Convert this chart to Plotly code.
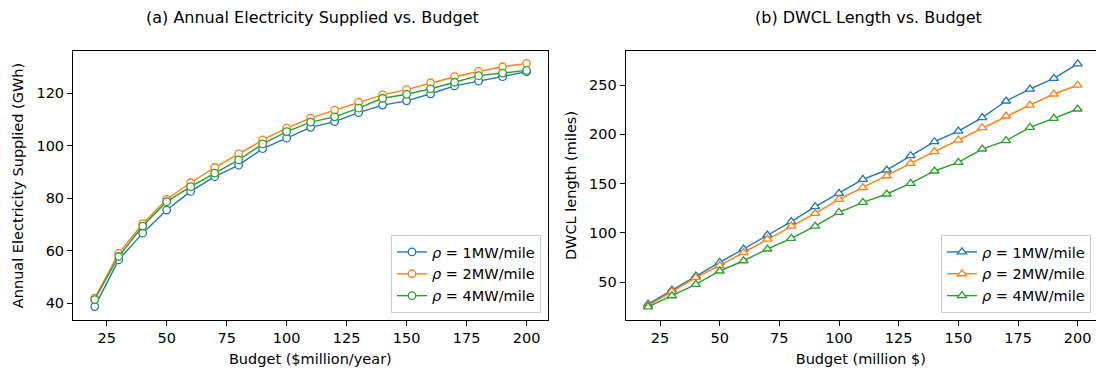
import plotly.graph_objects as go

budget = [20, 30, 40, 50, 60, 70, 80, 90, 100, 110, 120, 130, 140, 150, 160, 170, 180, 190, 200]

elec_1mw = [38.7, 56.5, 66.7, 75.5, 82.6, 88.2, 92.6, 98.9, 102.9, 107.0, 109.2, 112.6, 115.5, 117.1, 119.8, 122.8, 124.6, 126.3, 128.2]
elec_2mw = [41.9, 59.0, 70.3, 79.6, 85.9, 91.7, 96.9, 102.2, 106.7, 110.5, 113.6, 116.6, 119.4, 121.4, 124.0, 126.3, 128.3, 130.1, 131.4]
elec_4mw = [41.4, 57.8, 69.4, 78.7, 84.4, 89.6, 94.6, 100.7, 105.4, 109.0, 111.0, 114.3, 118.1, 119.6, 121.7, 124.2, 126.7, 127.7, 128.7]

dwcl_1mw = [27.9, 42.1, 56.3, 70.2, 83.7, 97.9, 111.4, 126.6, 140.2, 154.3, 163.8, 178.3, 192.5, 203.3, 216.9, 233.8, 245.9, 256.8, 271.5]
dwcl_2mw = [26.2, 40.4, 54.6, 66.8, 80.0, 93.8, 107.0, 119.9, 134.1, 145.9, 158.0, 170.6, 182.4, 194.2, 206.7, 218.6, 229.7, 240.9, 249.8]
dwcl_4mw = [25.0, 36.3, 47.8, 61.4, 71.8, 83.7, 94.5, 107.0, 120.9, 131.0, 139.5, 150.3, 162.8, 171.6, 185.1, 193.6, 207.1, 216.2, 225.7]

series_names = ["<i>ρ</i> = 1MW/mile", "<i>ρ</i> = 2MW/mile", "<i>ρ</i> = 4MW/mile"]
colors = ["#1f77b4", "#ff7f0e", "#2ca02c"]

FONT = "DejaVu Sans"
FS = 14.5
W, H = 1096, 373

fig = go.Figure()

for vals, name, c in zip([elec_1mw, elec_2mw, elec_4mw], series_names, colors):
    fig.add_trace(go.Scatter(
        x=budget, y=vals, name=name, mode="lines+markers",
        line=dict(color=c, width=1.4),
        marker=dict(symbol="circle", size=7.5, color="white", line=dict(color=c, width=1.3)),
        xaxis="x", yaxis="y", legend="legend",
    ))

for vals, name, c in zip([dwcl_1mw, dwcl_2mw, dwcl_4mw], series_names, colors):
    fig.add_trace(go.Scatter(
        x=budget, y=vals, name=name, mode="lines+markers",
        line=dict(color=c, width=1.4),
        marker=dict(symbol="triangle-up", size=8, color="white", line=dict(color=c, width=1.3)),
        xaxis="x2", yaxis="y2", legend="legend2",
    ))

def px_x(p):
    return p / W

def px_y(p):
    return 1 - p / H

axis_common = dict(
    showgrid=False, zeroline=False, showline=True, linecolor="black", linewidth=1,
    mirror=True, ticks="outside", ticklen=5, tickwidth=1, tickcolor="black",
    tickfont=dict(family=FONT, size=FS, color="black"),
)

fig.update_layout(
    width=W, height=H,
    margin=dict(l=0, r=0, t=0, b=0),
    plot_bgcolor="white", paper_bgcolor="white",
    font=dict(family=FONT, size=FS, color="black"),
    xaxis=dict(domain=[px_x(73), px_x(547.7)], range=[10.96, 208.8], anchor="y",
               tickvals=[25, 50, 75, 100, 125, 150, 175, 200],
               title=dict(text="Budget ($million/year)", font=dict(family=FONT, size=FS), standoff=8),
               **axis_common),
    yaxis=dict(domain=[px_y(320), px_y(51)], range=[33.6, 136.1], anchor="x",
               tickvals=[40, 60, 80, 100, 120],
               title=dict(text="Annual Electricity Supplied (GWh)", font=dict(family=FONT, size=FS), standoff=9),
               **axis_common),
    xaxis2=dict(domain=[px_x(625.7), 1.0], range=[10.63, 207.67], anchor="y2",
                tickvals=[25, 50, 75, 100, 125, 150, 175, 200],
                title=dict(text="Budget (million $)", font=dict(family=FONT, size=FS), standoff=8),
                **axis_common),
    yaxis2=dict(domain=[px_y(320), px_y(51)], range=[11.7, 284.5], anchor="x2",
                tickvals=[50, 100, 150, 200, 250],
                title=dict(text="DWCL length (miles)", font=dict(family=FONT, size=FS), standoff=9),
                **axis_common),
    legend=dict(x=px_x(541), y=px_y(313), xanchor="right", yanchor="bottom",
                bgcolor="rgba(255,255,255,0.85)", bordercolor="#cccccc", borderwidth=1,
                font=dict(family=FONT, size=FS), tracegroupgap=0, itemwidth=30),
    legend2=dict(x=px_x(1091), y=px_y(313), xanchor="right", yanchor="bottom",
                 bgcolor="rgba(255,255,255,0.85)", bordercolor="#cccccc", borderwidth=1,
                 font=dict(family=FONT, size=FS), tracegroupgap=0, itemwidth=30),
    annotations=[
        dict(text="(a) Annual Electricity Supplied vs. Budget", x=px_x(312), y=px_y(17),
             xref="paper", yref="paper", showarrow=False, xanchor="center", yanchor="middle",
             font=dict(family=FONT, size=16, color="black")),
        dict(text="(b) DWCL Length vs. Budget", x=px_x(868), y=px_y(17),
             xref="paper", yref="paper", showarrow=False, xanchor="center", yanchor="middle",
             font=dict(family=FONT, size=16, color="black")),
    ],
    showlegend=True,
)

fig.write_html("out.html")
